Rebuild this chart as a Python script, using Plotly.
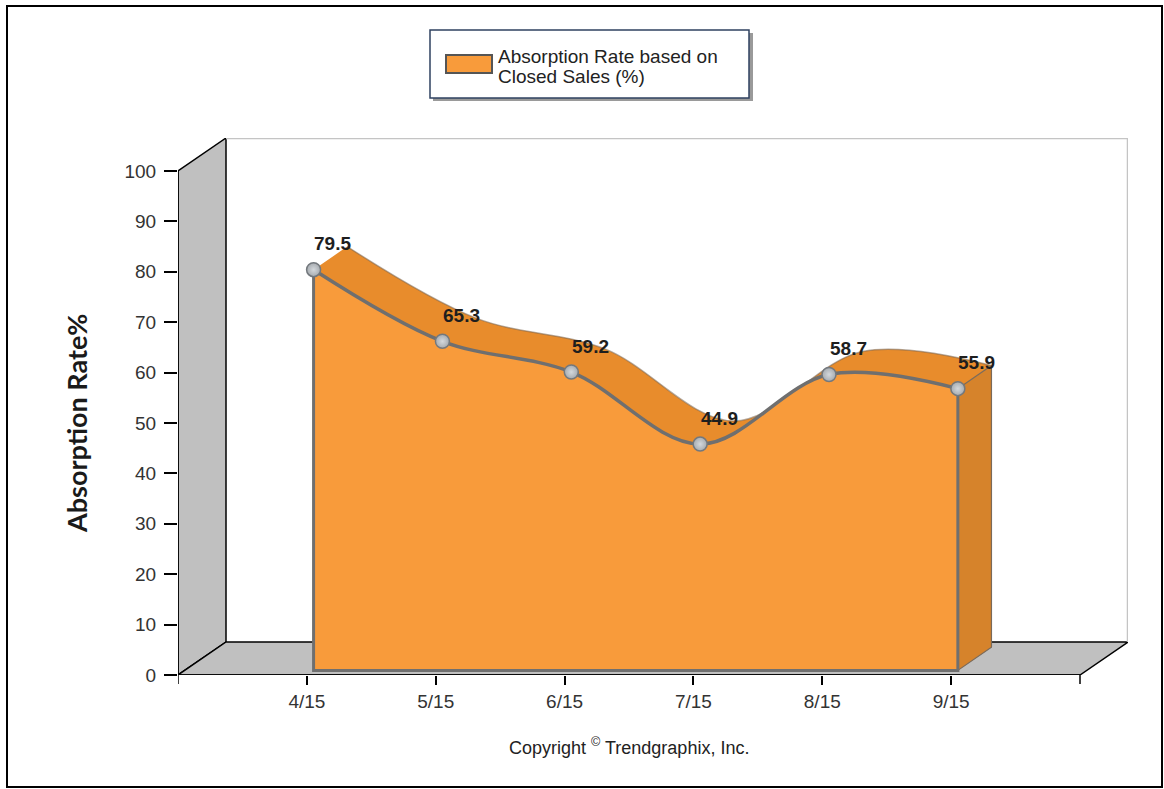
import plotly.graph_objects as go

# ---- data ----
months = ["4/15", "5/15", "6/15", "7/15", "8/15", "9/15"]
absorption = [79.5, 65.3, 59.2, 44.9, 58.7, 55.9]
series_name = "Absorption Rate based on Closed Sales (%)"
y_ticks = list(range(0, 101, 10))

# ---- figure geometry (pixels) ----
W, H = 1164, 789
PL, PR, PT, PB = 178, 1128, 138, 675          # plot area edges
FRONT_W = 902                                  # width of the front x axis
N_SLOTS = len(months) + 1
UX = FRONT_W / N_SLOTS                         # px per category unit
UY = 504 / 100.0                               # px per y unit
DEPTH_X = (PR - PL - FRONT_W) / UX             # 3D depth in x units
DEPTH_Y = (PB - PT - 504) / UY                 # 3D depth in y units
X_MAX = N_SLOTS + DEPTH_X
Y_MAX = 100 + DEPTH_Y

FRONT_F, BACK_F = 0.14, 0.84                   # depth fractions of the area slab
DXF, DYF = FRONT_F * DEPTH_X, FRONT_F * DEPTH_Y
DXB, DYB = BACK_F * DEPTH_X, BACK_F * DEPTH_Y

xs = list(range(1, len(months) + 1))

C_FRONT = "#F89B3B"
C_TOP = "#E88C2C"
C_SIDE = "#D6832B"
C_EDGE = "#6F6F6F"
C_WALL = "#C0C0C0"
TICK_FONT = dict(family="Liberation Sans", size=19, color="#333333")


def px(xp):
    return (xp - PL) / (PR - PL)


def py(yp):
    return (PB - yp) / (PB - PT)


fig = go.Figure()

# back edge of the slab
fig.add_trace(go.Scatter(
    x=[x + DXB for x in xs], y=[v + DYB for v in absorption],
    mode="lines", line=dict(shape="spline", color="rgba(120,100,80,0.55)", width=1.5),
    hoverinfo="skip", showlegend=False))
# top band between back and front edges
fig.add_trace(go.Scatter(
    x=[x + DXF for x in xs], y=[v + DYF for v in absorption],
    mode="lines", line=dict(shape="spline", color="rgba(0,0,0,0)", width=0),
    fill="tonexty", fillcolor=C_TOP, hoverinfo="skip", showlegend=False))
# right side face
x_end, v_end = xs[-1], absorption[-1]
fig.add_trace(go.Scatter(
    x=[x_end + DXF, x_end + DXB, x_end + DXB, x_end + DXF, x_end + DXF],
    y=[v_end + DYF, v_end + DYB, DYB, DYF, v_end + DYF],
    mode="lines", line=dict(color="#7a6a5a", width=1.2),
    fill="toself", fillcolor=C_SIDE, hoverinfo="skip", showlegend=False))
# outline of the front face (left, bottom, right edges)
fig.add_trace(go.Scatter(
    x=[xs[0] + DXF, xs[0] + DXF, x_end + DXF, x_end + DXF],
    y=[absorption[0] + DYF, DYF, DYF, v_end + DYF],
    mode="lines", line=dict(color=C_EDGE, width=3),
    hoverinfo="skip", showlegend=False))
# front face with the data curve and markers
fig.add_trace(go.Scatter(
    x=[x + DXF for x in xs], y=[v + DYF for v in absorption],
    mode="lines+markers", name=series_name,
    line=dict(shape="spline", color=C_EDGE, width=3.5),
    marker=dict(size=14, color="#A6ABB0", line=dict(color="#73787D", width=1.5),
                gradient=dict(type="radial", color="#D4D8DC")),
    fill="tonexty", fillcolor=C_FRONT,
    customdata=months, hovertemplate="%{customdata}: %{text}<extra></extra>",
    text=[f"{v:.1f}" for v in absorption], showlegend=False))

# value labels
for x, v in zip(xs, absorption):
    fig.add_annotation(x=x + DXF, y=v + DYF, text=f"<b>{v:.1f}</b>", showarrow=False,
                       xshift=19, yshift=26,
                       font=dict(family="Liberation Sans", size=19, color="#1E1E1E"))

shapes = []
# left wall
shapes.append(dict(type="path", xref="x", yref="y", layer="below",
                   path=f"M0,0 L0,100 L{DEPTH_X},{Y_MAX} L{DEPTH_X},{DEPTH_Y} Z",
                   fillcolor=C_WALL, line=dict(color="black", width=1.5)))
# floor
shapes.append(dict(type="path", xref="x", yref="y", layer="below",
                   path=f"M0,0 L{DEPTH_X},{DEPTH_Y} L{X_MAX},{DEPTH_Y} L{N_SLOTS},0 Z",
                   fillcolor=C_WALL, line=dict(color="black", width=1.5)))
# back wall outline (top and right edges)
shapes.append(dict(type="path", xref="x", yref="y", layer="below",
                   path=f"M{DEPTH_X},{Y_MAX} L{X_MAX},{Y_MAX} L{X_MAX},{DEPTH_Y}",
                   line=dict(color="#C4C4C4", width=2.5)))
# front axis lines
shapes.append(dict(type="line", xref="x", yref="y", x0=0, y0=0, x1=0, y1=100,
                   line=dict(color="black", width=1.5)))
shapes.append(dict(type="line", xref="x", yref="y", x0=0, y0=0, x1=N_SLOTS, y1=0,
                   line=dict(color="black", width=1.5)))
# unlabeled end ticks on the x axis
for xt in (0, N_SLOTS):
    shapes.append(dict(type="line", xref="x", yref="paper", x0=xt, x1=xt,
                       y0=py(PB), y1=py(PB + 9), line=dict(color="black", width=1.5)))

# legend box with shadow
shapes.append(dict(type="rect", xref="paper", yref="paper",
                   x0=px(433), x1=px(753), y0=py(33), y1=py(101),
                   fillcolor="#9a9a9a", line=dict(width=0), layer="above"))
shapes.append(dict(type="rect", xref="paper", yref="paper",
                   x0=px(430), x1=px(749), y0=py(30), y1=py(98),
                   fillcolor="white", line=dict(color="#2F4160", width=1.5), layer="above"))
shapes.append(dict(type="rect", xref="paper", yref="paper",
                   x0=px(446), x1=px(492), y0=py(55), y1=py(73),
                   fillcolor=C_FRONT, line=dict(color="#555555", width=2), layer="above"))
# outer frame
shapes.append(dict(type="rect", xref="paper", yref="paper",
                   x0=px(7), x1=px(1162), y0=py(6), y1=py(787),
                   line=dict(color="black", width=2), layer="above"))

legend_lines = ["Absorption Rate based on", "Closed Sales (%)"]
for line_text, yc in zip(legend_lines, [56, 77]):
    fig.add_annotation(xref="paper", yref="paper", x=px(496), y=py(yc), text=line_text,
                       showarrow=False, xanchor="left", yanchor="middle",
                       font=dict(family="Liberation Sans", size=19, color="#222222"))

# axis title and footer
fig.add_annotation(xref="paper", yref="paper", x=px(76), y=py(424),
                   xanchor="center", yanchor="middle",
                   text="<b>Absorption Rate%</b>", textangle=-90, showarrow=False,
                   font=dict(family="Lato", size=27, color="#1A1A1A"))
fig.add_annotation(xref="paper", yref="paper", x=px(629), y=py(746),
                   xanchor="center", yanchor="middle",
                   text="Copyright <sup>©</sup> Trendgraphix, Inc.", showarrow=False,
                   font=dict(family="Liberation Sans", size=18, color="#222222"))

fig.update_layout(
    width=W, height=H,
    margin=dict(l=PL, r=W - PR, t=PT, b=H - PB),
    paper_bgcolor="white", plot_bgcolor="white",
    shapes=shapes, showlegend=False,
    xaxis=dict(range=[0, X_MAX], tickvals=xs, ticktext=months,
               showgrid=False, zeroline=False,
               showline=False, ticks="outside", ticklen=9, tickwidth=1.5,
               tickcolor="black", fixedrange=True, tickfont=TICK_FONT),
    yaxis=dict(range=[0, Y_MAX], tickvals=y_ticks, showgrid=False, zeroline=False,
               showline=False, ticks="outside", ticklen=13, tickwidth=1.5,
               tickcolor="black", ticklabelstandoff=4, fixedrange=True,
               tickfont=TICK_FONT),
)

fig.write_html("out.html")
